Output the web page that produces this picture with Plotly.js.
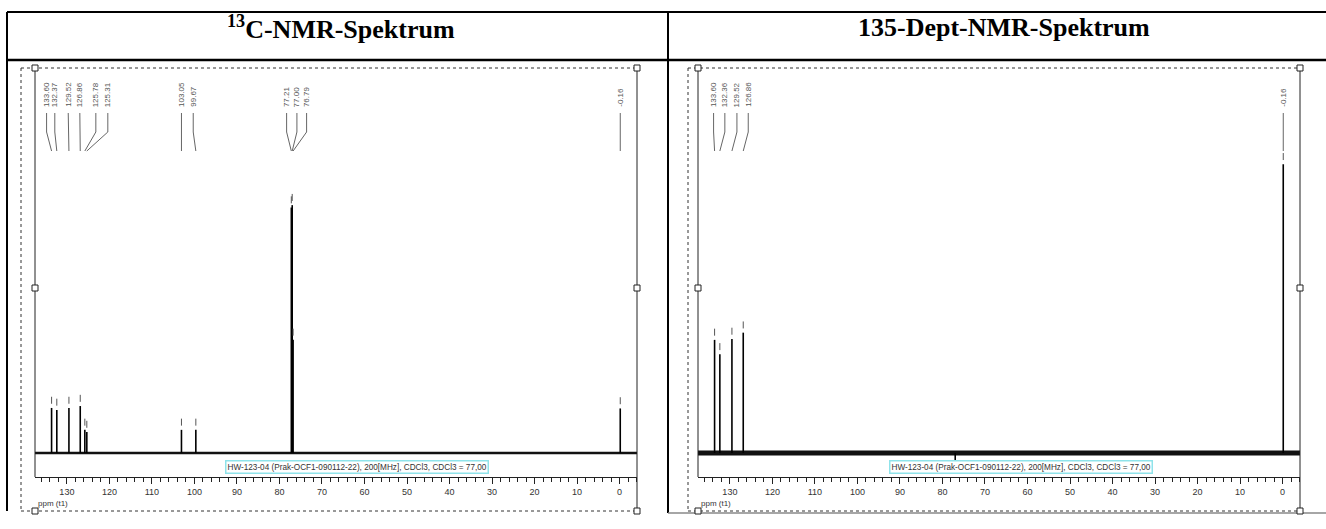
<!DOCTYPE html>
<html>
<head>
<meta charset="utf-8">
<script src="https://cdn.plot.ly/plotly-3.0.1.min.js"></script>
<style>html,body{margin:0;padding:0;background:#fff;}#chart{width:1326px;height:529px;}</style>
</head>
<body>
<div id="chart"></div>
<script>
// ---------- data ----------
const panelTitles = ['<b><sup>13</sup>C-NMR-Spektrum</b>', '<b>135-Dept-NMR-Spektrum</b>'];
const infoText = 'HW-123-04 (Prak-OCF1-090112-22), 200[MHz], CDCl3, CDCl3 = 77,00';
const axisTitle = 'ppm (t1)';

// 13C spectrum: picked peaks (ppm) and relative peak heights
const c13Peaks   = [133.60, 132.37, 129.52, 126.86, 125.78, 125.31, 103.05, 99.67, 77.21, 77.00, 76.79, -0.16];
const c13Heights = [18.7,   17.9,   18.7,   19.5,   9.6,    8.7,    9.6,    9.6,   102,   103,   47,    18.5];
const c13Labels  = ['133.60','132.37','129.52','126.86','125.78','125.31','103.05','99.67','77.21','77.00','76.79','-0.16'];

// 135-DEPT spectrum
const deptPeaks   = [133.60, 132.36, 129.52, 126.86, -0.16];
const deptHeights = [47,     41,     47.4,   50,     120];
const deptLabels  = ['133.60','132.36','129.52','126.86','-0.16'];
const deptSmallPeaks   = [77.0];
const deptSmallHeights = [-4];

// ---------- layout helpers ----------
const W = 1326, H = 529;
const PX = v => v / W;
const PY = v => 1 - v / H;
const ppmRange = [137.5, -4.1];
const yRange = [-10, 160];
const plotTop = 68, plotBottom = 477;
const panels = [
  {left: 35, right: 637, dashLeft: 21, boxCenter: 357},
  {left: 698, right: 1300, dashLeft: 688, boxCenter: 1021}
];
// label offsets from the peak position (in px) to keep labels from overlapping
const c13LabelShift  = [-5, -2, -0.7, -0.4, 11, 21, 0, -2.6, -4.7, 4.7, 13.5, 0];
const deptLabelShift = [-1, 5, 5, 5, 0];

function yUnits(py) { return yRange[0] + (plotBottom - py) / (plotBottom - plotTop) * (yRange[1] - yRange[0]); }
function ppmPerPx(p) { return (ppmRange[0] - ppmRange[1]) / (p.right - p.left); }

const traces = [];
const annotations = [];
const shapes = [];

function addSpectrum(idx, peaks, heights, labels, shifts, baseWidth, extraPeaks, extraHeights) {
  const xa = idx === 0 ? 'x' : 'x2';
  const ya = idx === 0 ? 'y' : 'y2';
  // baseline
  traces.push({x: ppmRange.slice(), y: [0, 0], xaxis: xa, yaxis: ya, mode: 'lines',
    line: {color: '#111', width: baseWidth}, hoverinfo: 'skip'});
  // peaks as sticks
  const sx = [], sy = [];
  const allP = peaks.concat(extraPeaks || []);
  const allH = heights.concat(extraHeights || []);
  allP.forEach((p, i) => { sx.push(p, p, null); sy.push(0, allH[i], null); });
  traces.push({x: sx, y: sy, xaxis: xa, yaxis: ya, mode: 'lines',
    line: {color: '#000', width: 1.6}, hoverinfo: 'skip'});
  // peak-pick marks
  traces.push({x: peaks, y: heights.map(h => h + 3.2), xaxis: xa, yaxis: ya, mode: 'markers',
    marker: {symbol: 'line-ns-open', size: 5, color: '#555', line: {color: '#555', width: 1}}, hoverinfo: 'skip'});
  // leaders + labels
  const k = ppmPerPx(panels[idx]);
  const lx = [], ly = [];
  const yA = yUnits(113), yB = yUnits(132), yC = yUnits(151);
  peaks.forEach((p, i) => {
    const labX = p - shifts[i] * k;
    lx.push(labX, labX, p, null);
    ly.push(yA, yB, yC, null);
    annotations.push({xref: xa, yref: ya, x: labX, y: yUnits(108), text: labels[i],
      textangle: -90, showarrow: false, xanchor: 'center', yanchor: 'bottom',
      font: {family: 'Liberation Sans, Arial', size: 8, color: '#555'}, borderpad: 0});
  });
  traces.push({x: lx, y: ly, xaxis: xa, yaxis: ya, mode: 'lines',
    line: {color: '#666', width: 1}, hoverinfo: 'skip'});
}

addSpectrum(0, c13Peaks, c13Heights, c13Labels, c13LabelShift, 2.4);
addSpectrum(1, deptPeaks, deptHeights, deptLabels, deptLabelShift, 5, deptSmallPeaks, deptSmallHeights);

// ---------- table frame ----------
function line(x0, y0, x1, y1, color, width, dash) {
  shapes.push({type: 'line', xref: 'paper', yref: 'paper', x0: PX(x0), y0: PY(y0), x1: PX(x1), y1: PY(y1),
    line: {color: color, width: width, dash: dash || 'solid'}, layer: 'above'});
}
function square(cx, cy) {
  shapes.push({type: 'rect', xref: 'paper', yref: 'paper', x0: PX(cx - 3), y0: PY(cy - 3), x1: PX(cx + 3), y1: PY(cy + 3),
    line: {color: '#222', width: 1}, fillcolor: '#fff', layer: 'above'});
}
line(7, 12, 1326, 12, '#000', 2);
line(7, 60, 1326, 60, '#000', 2.5);
line(7, 12, 7, 511, '#000', 2);
line(668, 12, 668, 513, '#000', 2);
line(668, 513, 1326, 513, '#888', 1.5);

panels.forEach(p => {
  line(p.dashLeft, plotTop, p.right, plotTop, '#333', 1, 'dot');
  line(p.dashLeft, plotTop, p.dashLeft, 511, '#333', 1, 'dot');
  line(p.dashLeft, 511, p.right, 511, '#333', 1, 'dot');
  line(p.left, plotTop, p.left, plotBottom, '#222', 1);
  line(p.right, plotTop, p.right, 511, '#222', 1);
  [[p.left, plotTop], [p.right, plotTop], [p.left, 288], [p.right, 288], [p.left, 511], [p.right, 511]]
    .forEach(c => square(c[0], c[1]));
});

// header titles
annotations.push({xref: 'paper', yref: 'paper', x: PX(341), y: PY(28), text: panelTitles[0], showarrow: false,
  xanchor: 'center', yanchor: 'middle', font: {family: 'Liberation Serif, Times New Roman', size: 26, color: '#000'}});
annotations.push({xref: 'paper', yref: 'paper', x: PX(1004), y: PY(28), text: panelTitles[1], showarrow: false,
  xanchor: 'center', yanchor: 'middle', font: {family: 'Liberation Serif, Times New Roman', size: 26, color: '#000'}});

// info boxes + axis titles
panels.forEach(p => {
  annotations.push({xref: 'paper', yref: 'paper', x: PX(p.boxCenter), y: PY(467), text: infoText, showarrow: false,
    xanchor: 'center', yanchor: 'middle', bgcolor: '#fff', bordercolor: '#8fe3ea', borderwidth: 1.5, borderpad: 1,
    font: {family: 'Liberation Sans, Arial', size: 8.2, color: '#333'}});
  annotations.push({xref: 'paper', yref: 'paper', x: PX(p.left + 1), y: PY(503), text: axisTitle, showarrow: false,
    xanchor: 'left', yanchor: 'middle', font: {family: 'Liberation Sans, Arial', size: 8, color: '#333'}});
});

function xAxis(p, anchor) {
  return {domain: [PX(p.left), PX(p.right)], range: ppmRange.slice(), anchor: anchor,
    showline: true, linecolor: '#222', linewidth: 1, ticks: 'outside', ticklen: 6, tickwidth: 1, tickcolor: '#222',
    tick0: 0, dtick: 10, showgrid: false, zeroline: false,
    tickfont: {family: 'Liberation Sans, Arial', size: 9, color: '#333'},
    minor: {tick0: 0, dtick: 2, ticks: 'outside', ticklen: 4, tickwidth: 1, tickcolor: '#222', showgrid: false}};
}
function yAxis(anchor) {
  return {domain: [PY(plotBottom), PY(plotTop)], range: yRange.slice(), anchor: anchor, visible: false,
    showgrid: false, zeroline: false};
}

const layout = {
  width: W, height: H, margin: {l: 0, r: 0, t: 0, b: 0},
  paper_bgcolor: '#fff', plot_bgcolor: 'rgba(0,0,0,0)', showlegend: false,
  xaxis: xAxis(panels[0], 'y'), yaxis: yAxis('x'),
  xaxis2: xAxis(panels[1], 'y2'), yaxis2: yAxis('x2'),
  shapes: shapes, annotations: annotations
};

Plotly.newPlot('chart', traces, layout, {staticPlot: true, displayModeBar: false});
</script>
</body>
</html>
